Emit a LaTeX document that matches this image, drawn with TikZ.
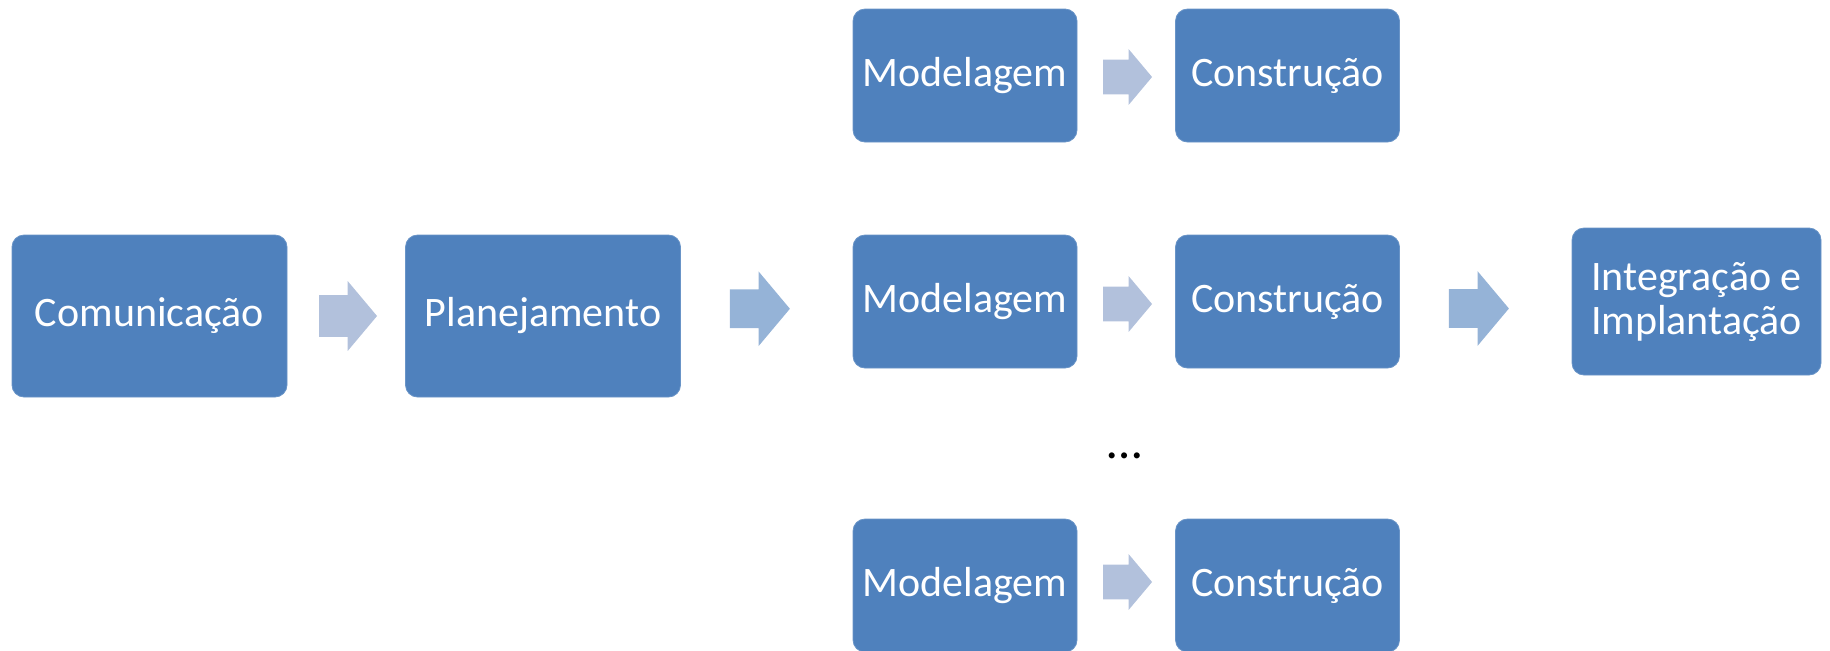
\documentclass[tikz,border=0pt]{standalone}
\usepackage{fontspec}
\setmainfont{Carlito}
\usetikzlibrary{shapes.arrows,calc}
\definecolor{caixa}{HTML}{4F81BD}
\definecolor{setaclara}{HTML}{B2C1DC}
\definecolor{setaforte}{HTML}{95B3D7}
\tikzset{
    etapa/.style={rectangle, rounded corners=6pt, fill=caixa, draw=caixa!85!white, text=white, font=\fontsize{21}{22}\selectfont, align=center, inner sep=0},
    grande/.style={etapa, minimum width=137.5pt, minimum height=81pt},
    pequena/.style={etapa, minimum width=112pt, minimum height=66.5pt},
    seta/.style={single arrow, fill=setaclara, inner xsep=0, inner ysep=10.25pt, single arrow tip angle=100, minimum height=29pt, single arrow head extend=7pt},
    setamenor/.style={seta, minimum height=24.5pt, inner ysep=8.5pt, single arrow head extend=5.25pt},
    setaforte/.style={seta, fill=setaforte, minimum height=30pt, inner ysep=9.5pt, single arrow head extend=9pt}
}

\begin{document}
\begin{tikzpicture}[x=0.5pt, y=-0.5pt]
    \useasboundingbox (0,0) rectangle (1830,650);
    % etapas iniciais
    \node[grande] (com) at (149.5,316) {Comunicação};
    \node[grande] (plan) at (543,316) {Planejamento};
    % tres linhas de modelagem e construcao
    \node[pequena] (mod1) at (965,75.5) {Modelagem};
    \node[pequena] (cons1) at (1287.5,75.5) {Construção};
    \node[pequena] (mod2) at (965,301.5) {Modelagem};
    \node[pequena] (cons2) at (1287.5,301.5) {Construção};
    \node[pequena] (mod3) at (965,585.5) {Modelagem};
    \node[pequena] (cons3) at (1287.5,585.5) {Construção};
    \node (pontos) at (1125,456) {\fontsize{25}{25}\selectfont\dots};
    \node[etapa, minimum width=124.5pt, minimum height=73.5pt] (integ) at (1696.5,301.5) {Integração e\\Implantação};
    % setas
    \node[seta] (s1) at ($(com.east)!0.5!(plan.west)+(-7,0)$) {};
    \node[setaforte] (s2) at ($(plan.east)!0.5!(mod2.west)+(-15,0)$) {};
    \node[setamenor] (s3) at ($(mod1.east)!0.5!(cons1.west)+(-6,1.5)$) {};
    \node[setamenor] (s4) at ($(mod2.east)!0.5!(cons2.west)+(-6,2.5)$) {};
    \node[setamenor] (s5) at ($(mod3.east)!0.5!(cons3.west)+(-6,-3.5)$) {};
    \node[setaforte] (s6) at ($(cons2.east)!0.5!(integ.west)+(-15,7)$) {};
\end{tikzpicture}
\end{document}
